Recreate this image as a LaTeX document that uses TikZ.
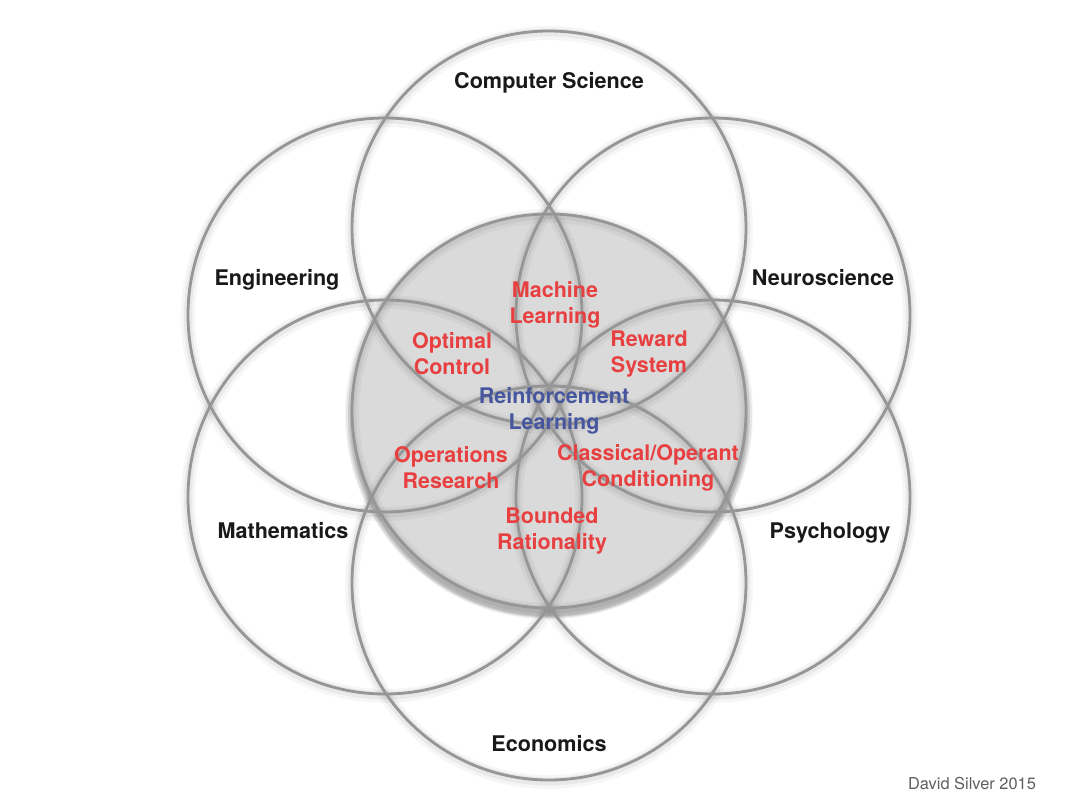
\documentclass[tikz,border=0pt]{standalone}
\usepackage{fontspec}
\setmainfont{TeX Gyre Heros}
\definecolor{ringgray}{RGB}{150,150,150}
\definecolor{fillgray}{RGB}{218,218,218}
\definecolor{lblred}{RGB}{232,64,64}
\definecolor{lblblue}{RGB}{70,86,158}
\definecolor{lbldark}{RGB}{25,25,25}
\definecolor{footgray}{RGB}{95,95,95}
\begin{document}
\begin{tikzpicture}[x=0.5pt,y=-0.5pt,
  ring/.style={draw=ringgray,line width=1.4pt},
  field/.style={font=\bfseries\fontsize{10.8}{13}\selectfont, text=lbldark, inner sep=0pt, text height=7.8pt, text depth=2.2pt},
  sublbl/.style={font=\bfseries\fontsize{10.75}{13}\selectfont, text=lblred, align=center, inner sep=0pt},
  corelbl/.style={sublbl, text=lblblue},
  footlbl/.style={font=\fontsize{8.2}{10}\selectfont, text=footgray, inner sep=0pt}
]
\fill[white] (0,0) rectangle (1080,810);
\useasboundingbox (0,0) rectangle (1080,810);
\coordinate (O) at (549,411);
\coordinate (cs) at (549,228);
\coordinate (eco) at (549,583);
\coordinate (eng) at (385,315);
\coordinate (neu) at (713,315);
\coordinate (mat) at (385,497);
\coordinate (psy) at (713,497);
% shadow of the central disc, mostly below it
\foreach \s/\d/\o in {0/4/0.07,1/3.5/0.07,2/3/0.07,3/2.5/0.06}
  \fill[black, opacity=\o] ([yshift=-\d pt]O) circle[radius={98.5pt+\s pt}];
\fill[fillgray] (O) circle[radius=98.5pt];
% soft halos
\foreach \c in {O,cs,eco,eng,neu,mat,psy}{
  \draw[black, opacity=0.035, line width=7pt] ([yshift=-1pt]\c) circle[radius=98.5pt];
  \draw[black, opacity=0.05, line width=4pt] ([yshift=-0.7pt]\c) circle[radius=98.5pt];
}
% rings
\foreach \c in {O,cs,eco,eng,neu,mat,psy}
  \draw[ring] (\c) circle[radius=98.5pt];
% field labels
\node[field] (tcs) at (549,83) {Computer Science};
\node[field] (teng) at (277,280) {Engineering};
\node[field] (tneu) at (823,280) {Neuroscience};
\node[field] (tmat) at (283,533) {Mathematics};
\node[field] (tpsy) at (830,533) {Psychology};
\node[field] (teco) at (549,746) {Economics};
% overlap labels
\node[sublbl] (ml) at (555,305) {Machine\\Learning};
\node[sublbl] (oc) at (452,354) {Optimal\\Control};
\node[sublbl] (rs) at (649,354) {Reward\\System};
\node[corelbl] (rl) at (554,411) {Reinforcement\\Learning};
\node[sublbl] (orr) at (451,468) {Operations\\Research};
\node[sublbl] (coc) at (648,468) {Classical/Operant\\Conditioning};
\node[sublbl] (br) at (552,531) {Bounded\\Rationality};
\node[footlbl] (foot) at (972,784) {David Silver 2015};
\end{tikzpicture}
\end{document}
